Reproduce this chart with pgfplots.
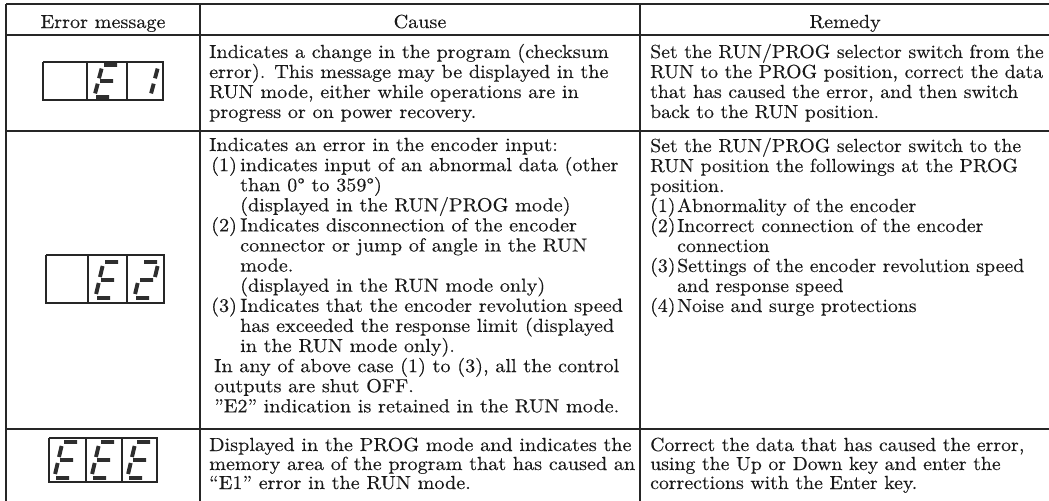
\documentclass[border=0pt]{standalone}
\usepackage{fontspec}
\setmainfont{lmroman10-regular.otf}[FakeStretch=1.065,FakeBold=0.25]
\newfontfamily\remfont{lmroman10-regular.otf}[FakeStretch=1.045,FakeBold=0.25]
\usepackage{pgfplots}
\pgfplotsset{compat=1.18}
\newcommand\tfont{\fontsize{19}{20}\selectfont}
\newcommand\rfont{\remfont\fontsize{19}{20}\selectfont}
\newcommand\tl[3]{\node[anchor=base west,inner sep=0pt,font=\tfont,text=black!90] at (axis cs:#1,#2) {#3};}
\newcommand\rl[3]{\node[anchor=base west,inner sep=0pt,font=\rfont,text=black!90] at (axis cs:#1,#2) {#3};}
\newcommand\tc[3]{\node[anchor=base,inner sep=0pt,font=\tfont,text=black!90] at (axis cs:#1,#2) {#3};}
\begin{document}
\begin{tikzpicture}
\begin{axis}[x=1bp,y=1bp,xmin=0,xmax=1049,ymin=0,ymax=501,y dir=reverse,hide axis,clip=false,
 unbounded coords=jump,
 rule/.style={black!85,line width=1.1bp,no marks},
 seg/.style={black!82,line width=3.9bp,no marks,line cap=butt}]
% table rules
\addplot[rule,line width=2.4bp] coordinates {(6,4)(1049,4)};
\addplot[rule,line width=1.4bp] coordinates {(6,35)(1049,35)};
\addplot[rule] coordinates {(6,131)(1049,131)};
\addplot[rule] coordinates {(6,429)(1049,429)};
\addplot[rule,line width=2bp] coordinates {(6,4)(6,501)};
\addplot[rule] coordinates {(200,4)(200,501)};
\addplot[rule] coordinates {(640,4)(640,501)};
% display boxes
\addplot[rule] coordinates {(43,62)(163,62)(163,100)(43,100)(43,62) (nan,nan) (87,62)(87,100) (nan,nan) (127,62)(127,100)};
\addplot[rule] coordinates {(46,255)(164,255)(164,303)(46,303)(46,255) (nan,nan) (88,255)(88,303) (nan,nan) (127,255)(127,303)};
\addplot[rule,line width=2bp] coordinates {(49,438)(157,438)(157,482)(49,482)(49,438)};
\addplot[rule] coordinates {(86,438)(86,482) (nan,nan) (122,438)(122,482)};
% segments row 1: " E1"
\addplot[seg] coordinates {(104,65)(117,65) (nan,nan) (101.6,68.6)(99,78.3) (nan,nan) (100,81)(113,81) (nan,nan) (97.7,83.7)(95.1,93.4) (nan,nan) (96,97)(109,97)
 (nan,nan) (157.6,68.6)(155,78.3) (nan,nan) (153.7,83.7)(151.1,93.4)};
% segments row 2: " E2"
\addplot[seg] coordinates {(105,262)(118,262) (nan,nan) (102.6,266)(100,277) (nan,nan) (101,280)(114,280) (nan,nan) (98.7,283)(96.1,294) (nan,nan) (97,298)(110,298)
 (nan,nan) (144,262)(157,262) (nan,nan) (157.6,266)(155,277) (nan,nan) (140,280)(153,280) (nan,nan) (137.7,283)(135.1,294) (nan,nan) (136,298)(149,298)};
% segments row 3: "EEE"
\addplot[seg] coordinates {(64,442)(77,442) (nan,nan) (61.6,446)(59,457) (nan,nan) (60,460)(73,460) (nan,nan) (57.7,463)(55.1,474) (nan,nan) (56,478)(69,478)
 (nan,nan) (101,442)(114,442) (nan,nan) (98.6,446)(96,457) (nan,nan) (97,460)(110,460) (nan,nan) (94.7,463)(92.1,474) (nan,nan) (93,478)(106,478)
 (nan,nan) (137,442)(150,442) (nan,nan) (134.6,446)(132,457) (nan,nan) (133,460)(146,460) (nan,nan) (130.7,463)(128.1,474) (nan,nan) (129,478)(142,478)};
% header
\tc{103}{28}{Error message}
\tc{420}{28}{Cause}
\tc{845}{28}{Remedy}
% row 1
\tl{209}{58}{Indicates a change in the program (checksum}
\tl{209}{78}{error). This message may be displayed in the}
\tl{209}{98}{RUN mode, either while operations are in}
\tl{209}{118}{progress or on power recovery.}
\rl{650}{58}{Set the RUN/PROG selector switch from the}
\rl{650}{78}{RUN to the PROG position, correct the data}
\rl{650}{98}{that has caused the error, and then switch}
\rl{650}{118}{back to the RUN position.}
% row 2 cause
\tl{209}{151}{Indicates an error in the encoder input:}
\tl{211}{171.1}{(1)}\tl{240}{171.1}{indicates input of an abnormal data (other}
\tl{240}{191.2}{than 0° to 359°)}
\tl{240}{211.3}{(displayed in the RUN/PROG mode)}
\tl{211}{231.4}{(2)}\tl{240}{231.4}{Indicates disconnection of the encoder}
\tl{240}{251.5}{connector or jump of angle in the RUN}
\tl{240}{271.6}{mode.}
\tl{240}{291.7}{(displayed in the RUN mode only)}
\tl{211}{311.8}{(3)}\tl{240}{311.8}{Indicates that the encoder revolution speed}
\tl{240}{331.9}{has exceeded the response limit (displayed}
\tl{240}{352}{in the RUN mode only).}
\tl{214}{372.1}{In any of above case (1) to (3), all the control}
\tl{214}{392.2}{outputs are shut OFF.}
\tl{214}{412.3}{''E2'' indication is retained in the RUN mode.}
% row 2 remedy
\rl{650}{152}{Set the RUN/PROG selector switch to the}
\rl{650}{172}{RUN position the followings at the PROG}
\rl{650}{192}{position.}
\rl{650}{212}{(1)}\rl{677}{212}{Abnormality of the encoder}
\rl{650}{232}{(2)}\rl{677}{232}{Incorrect connection of the encoder}
\rl{677}{252}{connection}
\rl{650}{272}{(3)}\rl{677}{272}{Settings of the encoder revolution speed}
\rl{677}{292}{and response speed}
\rl{650}{312}{(4)}\rl{677}{312}{Noise and surge protections}
% row 3
\tl{209}{451}{Displayed in the PROG mode and indicates the}
\tl{209}{470}{memory area of the program that has caused an}
\tl{209}{489}{``E1'' error in the RUN mode.}
\rl{650}{451}{Correct the data that has caused the error,}
\rl{650}{470}{using the Up or Down key and enter the}
\rl{650}{489}{corrections with the Enter key.}
\end{axis}
\pgfresetboundingbox
\path (0,0) rectangle (1049bp,501bp);
\end{tikzpicture}
\end{document}
